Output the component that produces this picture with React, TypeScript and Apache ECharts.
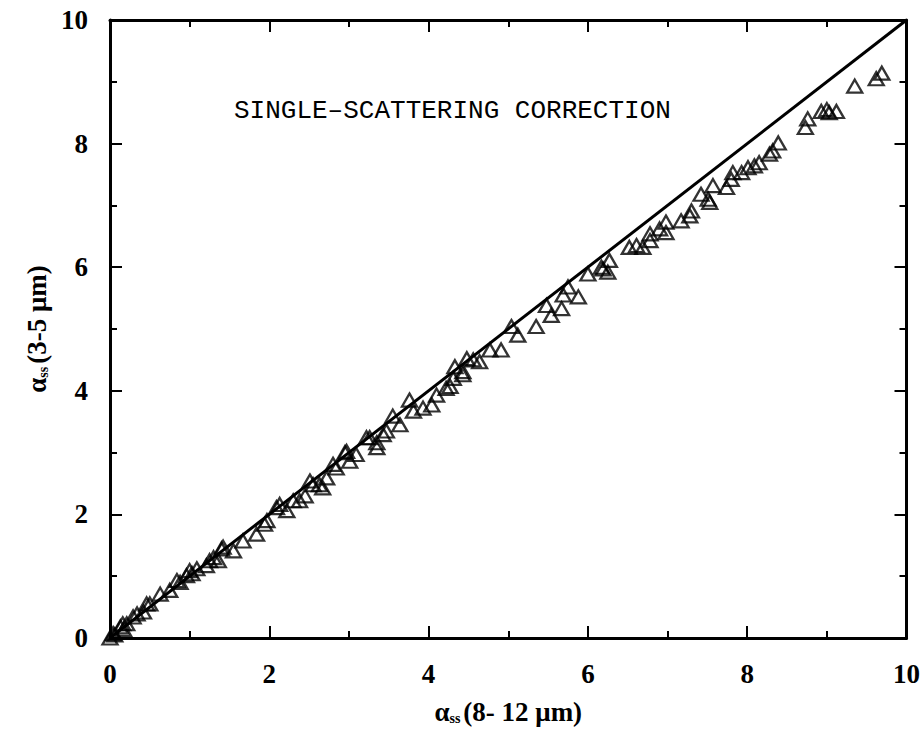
import React, { useEffect, useRef } from "react";
import * as echarts from "echarts";

const xTickLabels = ["0", "2", "4", "6", "8", "10"];
const yTickLabels = ["0", "2", "4", "6", "8", "10"];
const titleText = "SINGLE\u2013SCATTERING CORRECTION";

// alpha_ss (8-12 um)
const xVals = [
  0.0, 0.04, 0.06, 0.13, 0.16, 0.17, 0.21, 0.29, 0.34, 0.42, 0.46, 0.5, 0.63, 0.75, 0.84, 0.88, 0.96, 1.0, 1.03, 1.09,
  1.21, 1.25, 1.3, 1.36, 1.4, 1.42, 1.55, 1.67, 1.84, 1.94, 1.97, 2.09, 2.13, 2.22, 2.3, 2.38, 2.45, 2.51, 2.55, 2.63,
  2.67, 2.72, 2.8, 2.84, 2.95, 2.97, 3.01, 3.09, 3.22, 3.26, 3.35, 3.35, 3.43, 3.47, 3.55, 3.64, 3.76, 3.81, 3.93, 4.04,
  4.1, 4.22, 4.27, 4.31, 4.33, 4.43, 4.43, 4.48, 4.56, 4.64, 4.77, 4.91, 5.04, 5.12, 5.35, 5.48, 5.54, 5.67, 5.69, 5.75,
  5.88, 6.0, 6.17, 6.19, 6.25, 6.27, 6.52, 6.61, 6.69, 6.78, 6.78, 6.9, 6.98, 6.98, 7.17, 7.28, 7.3, 7.42, 7.51, 7.53,
  7.57, 7.74, 7.8, 7.82, 7.93, 8.01, 8.09, 8.15, 8.28, 8.32, 8.39, 8.73, 8.76, 8.93, 9.0, 9.03, 9.12, 9.35, 9.62, 9.69,
];
// alpha_ss (3-5 um)
const yVals = [
  0.0, 0.07, 0.05, 0.18, 0.23, 0.14, 0.23, 0.34, 0.39, 0.42, 0.55, 0.55, 0.71, 0.77, 0.93, 0.9, 1.01, 1.09, 1.04, 1.12,
  1.17, 1.25, 1.3, 1.25, 1.44, 1.47, 1.41, 1.57, 1.68, 1.84, 1.9, 2.11, 2.16, 2.06, 2.22, 2.22, 2.3, 2.54, 2.48, 2.48,
  2.43, 2.59, 2.81, 2.75, 3.0, 3.02, 2.86, 2.97, 3.24, 3.24, 3.16, 3.08, 3.29, 3.35, 3.59, 3.45, 3.85, 3.67, 3.72, 3.77,
  3.93, 4.04, 4.07, 4.2, 4.39, 4.26, 4.31, 4.52, 4.5, 4.47, 4.66, 4.66, 5.04, 4.9, 5.04, 5.38, 5.22, 5.33, 5.55, 5.68,
  5.52, 5.89, 6.0, 5.97, 5.92, 6.11, 6.32, 6.35, 6.32, 6.43, 6.54, 6.62, 6.56, 6.73, 6.75, 6.83, 6.91, 7.18, 7.1, 7.05,
  7.32, 7.29, 7.42, 7.53, 7.53, 7.61, 7.64, 7.69, 7.83, 7.88, 8.01, 8.26, 8.4, 8.52, 8.55, 8.5, 8.52, 8.93, 9.05, 9.14,
];
const refLine = [0, 10];

const serif = "'Liberation Serif', 'DejaVu Serif', serif";

export default function App() {
  const ref = useRef<HTMLDivElement>(null);
  useEffect(() => {
    if (!ref.current) return;
    const chart = echarts.init(ref.current, undefined, { renderer: "svg" });
    const points = xVals.map((x, i) => [x, yVals[i]]);
    const linePts = refLine.map((v) => [v, v]);
    const tickStyle = { show: true, inside: true, length: 12, lineStyle: { color: "#000", width: 2 } };
    const minorStyle = { show: true, splitNumber: 2, length: 7, lineStyle: { color: "#000", width: 2 } };
    const axisLine = { show: true, onZero: false, lineStyle: { color: "#000", width: 3 } };
    const labelStyle = { color: "#000", fontFamily: serif, fontWeight: "bold" as const, fontSize: 27 };
    const nameRich = {
      a: { fontFamily: serif, fontWeight: "bold" as const, fontSize: 27, color: "#000" },
      s: { fontFamily: serif, fontWeight: "bold" as const, fontSize: 14, color: "#000", padding: [13, 3, 0, 0] },
    };
    chart.setOption({
      animation: false,
      backgroundColor: "#fff",
      grid: { left: 110, right: 16, top: 20, bottom: 89 },
      title: {
        text: titleText,
        left: 229,
        top: 93,
        textStyle: { fontFamily: "'Liberation Mono', 'DejaVu Sans Mono', monospace", fontWeight: "normal", fontSize: 26, color: "#000" },
      },
      xAxis: [
        {
          type: "value", min: 0, max: 10, interval: 2, position: "bottom",
          axisLine, axisTick: tickStyle, minorTick: minorStyle, splitLine: { show: false },
          axisLabel: { ...labelStyle, margin: 22, formatter: (v: number) => xTickLabels[Math.round(v / 2)] ?? "" },
          name: "{a|\u03b1}{s|ss}{a|(8- 12 \u03bcm)}", nameLocation: "middle", nameGap: 60,
          nameTextStyle: { rich: nameRich },
        },
        {
          type: "value", min: 0, max: 10, interval: 2, position: "top",
          axisLine, axisTick: tickStyle, minorTick: minorStyle, splitLine: { show: false },
          axisLabel: { show: false },
        },
      ],
      yAxis: [
        {
          type: "value", min: 0, max: 10, interval: 2, position: "left",
          axisLine, axisTick: tickStyle, minorTick: minorStyle, splitLine: { show: false },
          axisLabel: { ...labelStyle, margin: 22, formatter: (v: number) => yTickLabels[Math.round(v / 2)] ?? "" },
          name: "{a|\u03b1}{s|ss}{a|(3-5 \u03bcm)}", nameLocation: "middle", nameGap: 58, nameRotate: 90,
          nameTextStyle: { rich: nameRich },
        },
        {
          type: "value", min: 0, max: 10, interval: 2, position: "right",
          axisLine, axisTick: tickStyle, minorTick: minorStyle, splitLine: { show: false },
          axisLabel: { show: false },
        },
      ],
      series: [
        {
          type: "line", data: linePts, symbol: "none", silent: true,
          lineStyle: { color: "#000", width: 3 }, z: 2,
        },
        {
          type: "scatter", data: points, symbol: "triangle", symbolSize: [15, 13],
          itemStyle: { color: "rgba(255,255,255,0)", borderColor: "#000", borderWidth: 2.3 }, z: 3,
        },
      ],
    });
    return () => chart.dispose();
  }, []);
  return <div ref={ref} style={{ position: "absolute", left: 0, top: 0, width: 923, height: 730 }} />;
}
